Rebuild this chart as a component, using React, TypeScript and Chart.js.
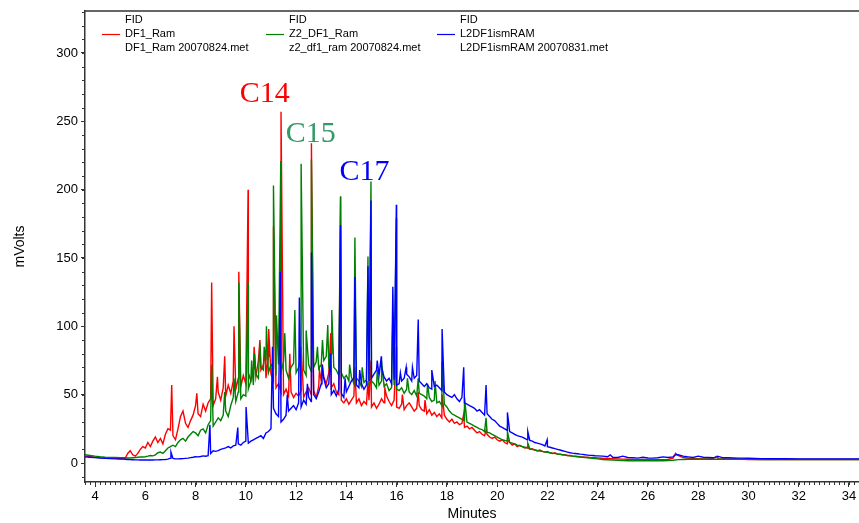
import { useEffect, useRef } from 'react';
import { Chart, registerables } from 'chart.js';

Chart.register(...registerables);

// ---- sample times (minutes) ----
const sampleTimes = [
  3.6, 3.8, 4.0, 4.2, 4.4, 4.6, 4.8, 5.0,
  5.1, 5.2, 5.3, 5.4, 5.5, 5.6, 5.7, 5.8, 5.9, 6.0,
  6.1, 6.2, 6.3, 6.4, 6.5, 6.6, 6.7, 6.8, 6.9, 7.0,
  7.1, 7.2, 7.3, 7.4, 7.5, 7.6, 7.7, 7.8, 7.9, 8.0,
  8.1, 8.2, 8.3, 8.4, 8.5, 8.6, 8.7, 8.8, 8.9, 9.0,
  9.1, 9.2, 9.3, 9.4, 9.5, 9.6, 9.7, 9.8, 9.9, 10.0,
  10.1, 10.2, 10.3, 10.4, 10.5, 10.6, 10.7, 10.8, 10.9, 11.0,
  11.1, 11.2, 11.3, 11.4, 11.5, 11.6, 11.7, 11.8, 11.9, 12.0,
  12.1, 12.2, 12.3, 12.4, 12.5, 12.6, 12.7, 12.8, 12.9, 13.0,
  13.1, 13.2, 13.3, 13.4, 13.5, 13.6, 13.7, 13.8, 13.9, 14.0,
  14.1, 14.2, 14.3, 14.4, 14.5, 14.6, 14.7, 14.8, 14.9, 15.0,
  15.1, 15.2, 15.3, 15.4, 15.5, 15.6, 15.7, 15.8, 15.9, 16.0,
  16.1, 16.2, 16.3, 16.4, 16.5, 16.6, 16.7, 16.8, 16.9, 17.0,
  17.1, 17.2, 17.3, 17.4, 17.5, 17.6, 17.7, 17.8, 17.9, 18.0,
  18.1, 18.2, 18.3, 18.4, 18.5, 18.6, 18.7, 18.8, 18.9, 19.0,
  19.1, 19.2, 19.3, 19.4, 19.5, 19.6, 19.7, 19.8, 19.9, 20.0,
  20.1, 20.2, 20.3, 20.4, 20.5, 20.6, 20.7, 20.8, 20.9, 21.0,
  21.1, 21.2, 21.3, 21.4, 21.5, 21.6, 21.7, 21.8, 21.9, 22.0,
  22.1, 22.2, 22.3, 22.4, 22.5, 22.6, 22.7, 22.8, 22.9, 23.0,
  23.1, 23.2, 23.3, 23.4, 23.5, 23.6, 23.7, 23.8, 23.9, 24.0,
  24.2, 24.4, 24.6, 24.8, 25.0, 25.2, 25.4, 25.6, 25.8, 26.0,
  26.2, 26.4, 26.6, 26.8, 27.0, 27.2, 27.4, 27.6, 27.8, 28.0,
  28.2, 28.4, 28.6, 28.8, 29.0, 29.2, 29.4, 29.6, 29.8, 30.0,
  30.5, 31.0, 31.5, 32.0, 32.5, 33.0, 33.5, 34.0, 34.4,
];

// ---- detector signal (mVolts) at the sample times ----
const redSignal = [
  5, 4.6, 4.2, 3.9, 3.7, 3.5, 3.4, 3.3,
  3.3, 3.5, 7, 9, 6, 5, 7, 10, 12, 11,
  15, 12, 16, 19, 15, 18, 14, 21, 25, 24,
  20, 17, 25, 34, 38, 29, 26, 31, 35, 42,
  36, 34, 43, 38, 44, 47, 42, 47, 52, 46,
  55, 49, 57, 51, 60, 54, 62, 56, 64, 58,
  66, 60, 70, 63, 75, 68, 72, 62, 78, 65,
  60, 55, 58, 52, 50, 54, 49, 52, 48, 51,
  49, 53, 48, 52, 55, 50, 53, 48, 56, 60,
  63, 58, 66, 55, 58, 52, 50, 46, 44, 47,
  43, 46, 49, 44, 47, 42, 45, 43, 46, 41,
  44, 40, 43, 47, 44, 49, 45, 42, 46, 41,
  40, 43, 39, 42, 44, 41, 38, 40, 42, 39,
  38, 36, 39, 35, 37, 34, 36, 33, 35, 32,
  30, 32, 29, 30, 28, 29, 26, 27, 25, 26,
  24, 22, 23, 21, 20, 21, 19, 18, 19, 17,
  16, 17, 15, 14, 15, 13, 14, 12, 13, 12,
  11, 11.5, 10, 10.5, 9.5, 9, 9.5, 8.5, 8, 8.5,
  7.5, 7, 7.5, 6.5, 6.5, 6, 6, 5.5, 5.5, 5,
  5, 4.8, 4.6, 4.5, 4.3, 4.2, 4, 3.9, 3.8, 3.7,
  3.5, 3.4, 3.2, 3, 2.8, 2.7, 2.6, 2.5, 2.6, 2.5,
  2.5, 2.4, 2.5, 2.6, 3.5, 5.5, 4, 3.5, 3.2, 3.2,
  3, 3, 3.4, 3, 2.9, 2.8, 2.8, 2.7, 2.7, 2.6,
  2.6, 2.6, 2.6, 2.6, 2.6, 2.6, 2.6, 2.6, 2.6,
];

const greenSignal = [
  6, 5.5, 5, 4.6, 4.3, 4.1, 4, 3.9,
  3.8, 3.8, 3.7, 3.7, 3.8, 3.9, 4.2, 4.5, 4.4, 4.6,
  5, 5.5, 5.2, 6, 7.5, 8, 7, 9, 11, 12,
  13, 12, 15, 17, 18, 16, 19, 21, 23, 22,
  20, 24, 25, 22, 28, 31, 27, 30, 33, 31,
  35, 38, 34, 42, 48, 45, 52, 47, 50, 49,
  54, 60, 57, 65, 62, 70, 68, 75, 66, 72,
  70, 64, 72, 66, 74, 68, 62, 70, 73, 66,
  70, 76, 68, 64, 72, 67, 70, 74, 69, 72,
  75, 78, 72, 80, 70, 68, 64, 66, 62, 64,
  60, 63, 58, 62, 60, 56, 59, 61, 57, 60,
  58, 55, 57, 60, 56, 58, 53, 55, 57, 54,
  53, 55, 51, 54, 52, 50, 53, 49, 51, 50,
  49, 47, 48, 45, 46, 44, 45, 42, 43, 41,
  38, 36, 35, 34, 33, 32, 31, 30, 29, 28,
  27, 26, 25, 24.5, 23, 22.5, 22, 21, 20, 19,
  18, 17, 16.5, 16, 15, 14.5, 14, 13, 12.5, 12,
  11.5, 11, 10.5, 10, 9.5, 9, 8.8, 8.5, 8, 7.8,
  7.5, 7.2, 7, 6.6, 6.4, 6, 5.8, 5.5, 5.3, 5,
  4.8, 4.6, 4.4, 4.2, 4, 3.8, 3.6, 3.4, 3.2, 3,
  2.6, 2.4, 2.2, 2, 1.8, 1.7, 1.7, 1.6, 1.6, 1.6,
  1.6, 1.7, 1.7, 1.8, 2, 2.5, 2.6, 2.7, 2.7, 2.7,
  2.7, 2.7, 2.7, 2.7, 2.7, 2.7, 2.7, 2.7, 2.7, 2.7,
  2.6, 2.6, 2.6, 2.6, 2.6, 2.6, 2.6, 2.6, 2.6,
];

const blueSignal = [
  4.5, 4.2, 3.9, 3.6, 3.4, 3.2, 3, 2.9,
  2.8, 2.7, 2.6, 2.5, 2.4, 2.3, 2.3, 2.2, 2.2, 2.2,
  2.2, 2.2, 2.2, 2.3, 2.3, 2.4, 2.5, 2.6, 2.8, 3.5,
  3.4, 3, 3, 3.1, 3.2, 3.4, 3.6, 3.9, 4.2, 4.6,
  4.5, 4.8, 5.2, 5, 5.4, 7, 9, 8.5, 9, 10,
  10.5, 11, 12, 11, 12.5, 13, 14, 13, 15, 16,
  14.5, 16, 17, 18, 19, 20, 18, 22, 23, 25,
  40, 36, 34, 30, 32, 35, 38, 40, 42, 39,
  44, 41, 46, 43, 48, 45, 50, 47, 52, 58,
  62, 55, 58, 50, 53, 49, 54, 51, 48, 52,
  56, 60, 62, 57, 55, 58, 54, 57, 60, 62,
  65, 68, 64, 70, 63, 60, 62, 58, 61, 57,
  58, 60, 62, 65, 63, 60, 62, 64, 60, 58,
  56, 58, 55, 54, 56, 57, 55, 53, 52, 50,
  49, 48, 50, 47, 45, 48, 44, 43, 42, 41,
  40, 38, 39, 37, 35, 36, 34, 32, 31, 29,
  27, 26, 25, 24, 23, 22, 21, 20, 19.5, 19,
  18, 17, 16.5, 16, 15, 14.5, 14, 13.5, 12.5, 12,
  11.5, 11, 10.5, 10, 9.5, 9, 8.5, 8, 7.5, 7.2,
  7, 6.8, 6.5, 6.3, 6, 5.8, 5.6, 5.5, 5.3, 5.2,
  5, 4.6, 4.2, 4, 5, 4, 3.8, 3.6, 4.2, 3.7,
  3.6, 3.8, 4.5, 4, 4.5, 6, 5, 4.5, 4, 5,
  4.2, 4, 3.8, 4.8, 3.8, 3.8, 3.7, 3.6, 3.6, 3.5,
  3.2, 3.1, 3.1, 3, 3, 3, 3, 3, 3,
];

// ---- sharp peaks: [retention time, apex mVolts] ----
const redPeaks: [number, number][] = [
  [7.05, 57], [8.05, 51], [8.64, 132], [8.87, 63], [9.16, 78], [9.53, 100],
  [9.72, 140], [10.09, 200], [10.33, 85], [10.56, 90], [10.77, 82], [10.91, 98],
  [11.10, 173], [11.40, 257], [11.75, 80], [12.20, 85], [12.61, 234], [12.93, 68],
  [13.05, 72], [13.38, 95], [13.77, 195], [14.34, 70], [14.86, 60], [14.98, 75],
  [15.53, 55], [15.99, 85], [16.23, 50], [16.86, 52], [17.13, 46], [17.81, 50],
  [18.67, 36], [19.56, 24], [20.41, 17], [27.1, 7], [28.75, 5],
];

const greenPeaks: [number, number][] = [
  [8.64, 72], [9.16, 52], [9.53, 62], [9.72, 132], [10.09, 132], [10.23, 75],
  [10.35, 80], [10.56, 88], [10.73, 85], [10.82, 100], [11.10, 203], [11.22, 108],
  [11.39, 221], [11.55, 95], [11.95, 112], [12.20, 219], [12.40, 97], [12.61, 222],
  [12.85, 85], [13.05, 90], [13.26, 101], [13.42, 112], [13.77, 195], [14.13, 72],
  [14.34, 165], [14.63, 70], [14.86, 151], [14.98, 206], [15.23, 68], [15.40, 75],
  [15.85, 110], [15.99, 179], [16.43, 62], [16.86, 62], [17.23, 58], [17.53, 60],
  [17.81, 74], [18.70, 48], [19.56, 33], [20.41, 23], [21.22, 14.6],
];

const bluePeaks: [number, number][] = [
  [7.02, 8], [8.57, 28], [9.68, 26], [10.01, 41], [11.06, 85], [11.37, 140],
  [11.65, 50], [12.13, 121], [12.45, 58], [12.61, 154], [13.03, 72], [13.38, 80],
  [13.77, 174], [13.95, 62], [14.34, 136], [14.53, 68], [14.86, 144], [14.98, 192],
  [15.23, 75], [15.39, 78], [15.85, 129], [15.99, 189], [16.15, 66], [16.38, 70],
  [16.63, 70], [16.86, 105], [17.40, 68], [17.81, 98], [18.67, 70], [19.56, 57],
  [20.41, 37], [21.22, 23], [21.99, 17], [24.5, 6], [27.1, 6],
];

// ---- legend and labels ----
const detectorNames = ['FID', 'FID', 'FID'];
const seriesNames = ['DF1_Ram', 'Z2_DF1_Ram', 'L2DF1ismRAM'];
const methodFiles = ['DF1_Ram 20070824.met', 'z2_df1_ram 20070824.met', 'L2DF1ismRAM 20070831.met'];
const xTickValues = [4, 6, 8, 10, 12, 14, 16, 18, 20, 22, 24, 26, 28, 30, 32, 34];
const yTickValues = [0, 50, 100, 150, 200, 250, 300];
const peakNames = ['C14', 'C15', 'C17'];
const peakNameTimes = [9.76, 11.59, 13.73];
const peakNameLevels = [264, 235, 207];

const SERIES_COLORS = ['#ff0000', '#008000', '#0000ff'];
const PEAK_NAME_COLORS = ['#ff0000', '#339966', '#0000ff'];
const SANS = "'Liberation Sans', Arial, sans-serif";
const SERIF = "'Liberation Serif', 'Times New Roman', serif";
const AXIS_COLOR = '#333333';
const X_MINOR_STEP = 0.2;
const Y_MINOR_STEP = 10;

function buildTrace(signal: number[], peaks: [number, number][]) {
  const pts = sampleTimes.map((t, i) => ({ x: t, y: signal[i] }));
  peaks.forEach(([t, h]) => pts.push({ x: t, y: h }));
  pts.sort((a, b) => a.x - b.x);
  return pts;
}

const decorPlugin = {
  id: 'decor',
  afterDatasetsDraw(chart: any) {
    const { ctx, scales } = chart;
    ctx.save();
    ctx.textAlign = 'left';
    ctx.textBaseline = 'alphabetic';
    ctx.font = `30px ${SERIF}`;
    peakNames.forEach((name, i) => {
      ctx.fillStyle = PEAK_NAME_COLORS[i];
      ctx.fillText(name, scales.x.getPixelForValue(peakNameTimes[i]), scales.y.getPixelForValue(peakNameLevels[i]));
    });
    ctx.restore();
  },
  afterDraw(chart: any) {
    const { ctx, chartArea, scales } = chart;
    const xs = scales.x;
    const ys = scales.y;
    ctx.save();
    // top frame line
    ctx.strokeStyle = AXIS_COLOR;
    ctx.lineWidth = 1.5;
    ctx.beginPath();
    ctx.moveTo(chartArea.left, chartArea.top);
    ctx.lineTo(chartArea.right, chartArea.top);
    ctx.stroke();
    // minor ticks
    ctx.lineWidth = 1;
    ctx.beginPath();
    const x0 = Math.ceil(xs.min / X_MINOR_STEP);
    const x1 = Math.floor(xs.max / X_MINOR_STEP);
    for (let k = x0; k <= x1; k++) {
      const v = k * X_MINOR_STEP;
      const px = Math.round(xs.getPixelForValue(v)) + 0.5;
      ctx.moveTo(px, chartArea.bottom);
      ctx.lineTo(px, chartArea.bottom + 3);
    }
    const y0 = Math.ceil(ys.min / Y_MINOR_STEP);
    const y1 = Math.floor(ys.max / Y_MINOR_STEP);
    for (let k = y0; k <= y1; k++) {
      const v = k * Y_MINOR_STEP;
      const py = Math.round(ys.getPixelForValue(v)) + 0.5;
      ctx.moveTo(chartArea.left, py);
      ctx.lineTo(chartArea.left - 3, py);
    }
    ctx.stroke();
    // legend
    const textX = [125, 289, 460];
    ctx.font = `11px ${SANS}`;
    ctx.textBaseline = 'middle';
    ctx.textAlign = 'left';
    seriesNames.forEach((name, i) => {
      ctx.fillStyle = '#000';
      ctx.fillText(detectorNames[i], textX[i], 20);
      ctx.fillText(name, textX[i], 34);
      ctx.fillText(methodFiles[i], textX[i], 48);
      ctx.strokeStyle = SERIES_COLORS[i];
      ctx.lineWidth = 1.2;
      ctx.beginPath();
      ctx.moveTo(textX[i] - 23, 34.5);
      ctx.lineTo(textX[i] - 5, 34.5);
      ctx.stroke();
    });
    ctx.restore();
  },
};

export default function App() {
  const canvasRef = useRef<HTMLCanvasElement | null>(null);

  useEffect(() => {
    if (!canvasRef.current) return;
    const traces = [buildTrace(redSignal, redPeaks), buildTrace(greenSignal, greenPeaks), buildTrace(blueSignal, bluePeaks)];
    const chart = new Chart(canvasRef.current, {
      type: 'line',
      data: {
        datasets: traces.map((data, i) => ({
          label: seriesNames[i],
          data,
          borderColor: SERIES_COLORS[i],
          backgroundColor: SERIES_COLORS[i],
          borderWidth: 1.4,
          pointRadius: 0,
          tension: 0,
          fill: false,
          order: 2 - i,
        })),
      },
      options: {
        animation: false,
        responsive: false,
        devicePixelRatio: 1,
        parsing: false as any,
        normalized: true,
        layout: { padding: { top: 11, left: 0, right: 0, bottom: 0 } },
        plugins: { legend: { display: false }, tooltip: { enabled: false } },
        scales: {
          x: {
            type: 'linear',
            min: 3.6,
            max: 34.4,
            afterBuildTicks: (s: any) => { s.ticks = xTickValues.map((v) => ({ value: v })); },
            afterFit: (s: any) => { s.height = 41; },
            ticks: {
              autoSkip: false,
              maxRotation: 0,
              padding: 2,
              color: '#000',
              font: { family: SANS, size: 13 },
              callback: (v: any) => String(v),
            },
            grid: { display: true, drawOnChartArea: false, drawTicks: true, tickLength: 5, tickColor: AXIS_COLOR, tickWidth: 1 },
            border: { display: true, color: AXIS_COLOR, width: 1.5 },
            title: { display: true, text: 'Minutes', color: '#000', font: { family: SANS, size: 14 }, padding: { top: 0, bottom: 0 } },
          },
          y: {
            type: 'linear',
            min: -13.9,
            max: 330.7,
            afterBuildTicks: (s: any) => { s.ticks = yTickValues.map((v) => ({ value: v })); },
            afterFit: (s: any) => { s.width = 85; },
            ticks: {
              padding: 3,
              color: '#000',
              font: { family: SANS, size: 13 },
              callback: (v: any) => String(v),
            },
            grid: { display: true, drawOnChartArea: false, drawTicks: true, tickLength: 4, tickColor: AXIS_COLOR, tickWidth: 1 },
            border: { display: true, color: AXIS_COLOR, width: 1.5 },
            title: { display: true, text: 'mVolts', color: '#000', font: { family: SANS, size: 14 }, padding: { top: 12, bottom: 0 } },
          },
        },
      },
      plugins: [decorPlugin],
    });
    return () => chart.destroy();
  }, []);

  return (
    <div style={{ position: 'fixed', left: 0, top: 0, width: 859, height: 523, background: '#fff' }}>
      <canvas ref={canvasRef} width={859} height={523} style={{ display: 'block', width: 859, height: 523 }} />
    </div>
  );
}
